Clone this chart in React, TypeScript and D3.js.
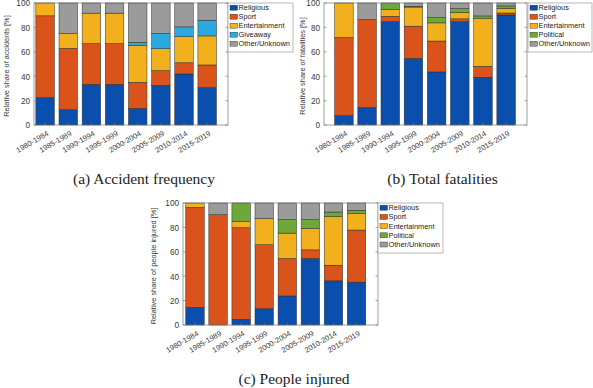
import * as d3 from "d3";

const periods = ["1980-1984", "1985-1989", "1990-1994", "1995-1999", "2000-2004", "2005-2009", "2010-2014", "2015-2019"];
const yTicks = [0, 20, 40, 60, 80, 100];

// (a) accident frequency [%]
const accidentSeries = ["Religious", "Sport", "Entertainment", "Giveaway", "Other/Unknown"];
const accidentReligious = [22.5, 12.5, 33.3, 33.3, 13.6, 32.5, 41.8, 30.7];
const accidentSport = [67, 50.3, 33.4, 33.4, 21.4, 12, 9.2, 18.5];
const accidentEntertainment = [10.5, 12.2, 25, 25, 30, 18, 21.5, 23.8];
const accidentGiveaway = [0, 0, 0, 0, 2.7, 12.5, 7.9, 12.9];
const accidentOther = [0, 25, 8.3, 8.3, 32.3, 25, 19.6, 14.1];

// (b) total fatalities [%]
const fatalitySeries = ["Religious", "Sport", "Entertainment", "Political", "Other/Unknown"];
const fatalityReligious = [7.6, 14.4, 84.8, 54.6, 43.5, 84.8, 39.1, 90.2];
const fatalitySport = [64.1, 72, 4.3, 26.4, 25.3, 2.2, 9, 1.6];
const fatalityEntertainment = [28.3, 0, 5.5, 15.7, 14.9, 5.4, 39.1, 3.9];
const fatalityPolitical = [0, 0, 5.4, 0.5, 4.3, 3, 2.2, 1.9];
const fatalityOther = [0, 13.6, 0, 2.8, 12, 4.6, 10.6, 2.4];

// (c) people injured [%]
const injuredSeries = ["Religious", "Sport", "Entertainment", "Political", "Other/Unknown"];
const injuredReligious = [14.5, 0, 4.7, 13.4, 23.8, 54.5, 36.2, 35.1];
const injuredSport = [81.9, 90.4, 75, 52.4, 30.7, 7.1, 12.8, 42.7];
const injuredEntertainment = [3.6, 0, 5, 21.6, 20.8, 17.6, 40, 13.4];
const injuredPolitical = [0, 0, 15.3, 0, 11, 7.1, 3.6, 2.8];
const injuredOther = [0, 9.6, 0, 12.6, 13.7, 13.7, 7.4, 6];

const seriesColors: Record<string, string> = {
  Religious: "#0b4fae",
  Sport: "#d9531a",
  Entertainment: "#f2b01c",
  Giveaway: "#2aa9e0",
  Political: "#6fa83a",
  "Other/Unknown": "#9b9b9b",
};

const sansFont = "'Liberation Sans', Arial, sans-serif";
const serifFont = "'Liberation Serif', 'Times New Roman', serif";

interface PanelProps {
  series: string[];
  values: number[][];
  box: { left: number; right: number; top: number; bottom: number };
  xDomain: [number, number];
  legend: { x: number; y: number; w: number; h: number };
  yLabel: string;
  yLabelX: number;
  caption: string;
  captionX: number;
  captionY: number;
}

const Panel = ({ series, values, box, xDomain, legend, yLabel, yLabelX, caption, captionX, captionY }: PanelProps) => {
  const rows = periods.map((p, i) => {
    const row: Record<string, number | string> = { period: p };
    series.forEach((s, j) => (row[s] = values[j][i]));
    return row;
  });
  const stacked = d3.stack<Record<string, number | string>>().keys(series)(rows as never);

  const x = d3.scaleLinear().domain(xDomain).range([box.left, box.right]);
  const y = d3.scaleLinear().domain([0, 100]).range([box.bottom, box.top]);
  const barWidth = x(1.8) - x(1);
  const rowStep = (legend.h - 4) / series.length;

  return (
    <g>
      {stacked.map((layer) => (
        <g key={layer.key} fill={seriesColors[layer.key]}>
          {layer.map((d, i) =>
            d[1] - d[0] > 0 ? (
              <rect
                key={i}
                x={x(i + 1) - barWidth / 2}
                y={y(d[1])}
                width={barWidth}
                height={y(d[0]) - y(d[1])}
                stroke="#2b2b2b"
                strokeWidth={0.5}
              />
            ) : null
          )}
        </g>
      ))}
      <rect x={box.left} y={box.top} width={box.right - box.left} height={box.bottom - box.top} fill="none" stroke="#777" strokeWidth={0.7} />
      {yTicks.map((t) => (
        <g key={t}>
          <line x1={box.left} x2={box.left + 2.5} y1={y(t)} y2={y(t)} stroke="#777" strokeWidth={0.7} />
          <line x1={box.right} x2={box.right - 2.5} y1={y(t)} y2={y(t)} stroke="#777" strokeWidth={0.7} />
          <text x={box.left - 4} y={y(t)} dy="0.42em" textAnchor="end" fontSize={8.2} fill="#3a3a3a" fontFamily={sansFont}>
            {t}
          </text>
        </g>
      ))}
      {periods.map((p, i) => (
        <g key={p}>
          <line x1={x(i + 1)} x2={x(i + 1)} y1={box.bottom} y2={box.bottom - 2.5} stroke="#777" strokeWidth={0.7} />
          <text
            transform={`translate(${x(i + 1) + 4},${box.bottom + 10}) rotate(-30)`}
            textAnchor="end"
            fontSize={7.5}
            fill="#3a3a3a"
            fontFamily={sansFont}
          >
            {p}
          </text>
        </g>
      ))}
      <text
        transform={`translate(${yLabelX},${(box.top + box.bottom) / 2 + 2}) rotate(-90)`}
        textAnchor="middle"
        dy="0.35em"
        fontSize={7.4}
        fill="#3a3a3a"
        fontFamily={sansFont}
      >
        {yLabel}
      </text>
      <rect x={legend.x} y={legend.y} width={legend.w} height={legend.h} fill="#fff" stroke="#999" strokeWidth={0.7} />
      {series.map((s, j) => {
        const cy = legend.y + 4.7 + rowStep * j;
        return (
          <g key={s}>
            <rect x={legend.x + 2} y={cy - 2.5} width={7.5} height={5} fill={seriesColors[s]} stroke="#2b2b2b" strokeWidth={0.4} />
            <text x={legend.x + 10.5} y={cy} dy="0.35em" fontSize={7.4} fill="#222" fontFamily={sansFont}>
              {s}
            </text>
          </g>
        );
      })}
      <text x={captionX} y={captionY} textAnchor="middle" fontSize={15.5} fill="#222" fontFamily={serifFont}>
        {caption}
      </text>
    </g>
  );
};

export default function App() {
  return (
    <svg width={593} height={388} style={{ position: "absolute", left: 0, top: 0, background: "#fff" }}>
      <Panel
        series={accidentSeries}
        values={[accidentReligious, accidentSport, accidentEntertainment, accidentGiveaway, accidentOther]}
        box={{ left: 34, right: 228, top: 3, bottom: 125 }}
        xDomain={[0.52, 8.9]}
        legend={{ x: 228, y: 3, w: 65, h: 49 }}
        yLabel="Relative share of accidents [%]"
        yLabelX={6}
        caption="(a) Accident frequency"
        captionX={144}
        captionY={184}
      />
      <Panel
        series={fatalitySeries}
        values={[fatalityReligious, fatalitySport, fatalityEntertainment, fatalityPolitical, fatalityOther]}
        box={{ left: 324, right: 527, top: 3, bottom: 125 }}
        xDomain={[0.14, 8.9]}
        legend={{ x: 528, y: 3, w: 64, h: 49 }}
        yLabel="Relative share of fatalities [%]"
        yLabelX={302}
        caption="(b) Total fatalities"
        captionX={442.5}
        captionY={184}
      />
      <Panel
        series={injuredSeries}
        values={[injuredReligious, injuredSport, injuredEntertainment, injuredPolitical, injuredOther]}
        box={{ left: 183, right: 378, top: 203, bottom: 325 }}
        xDomain={[0.48, 8.93]}
        legend={{ x: 378, y: 203, w: 65, h: 50 }}
        yLabel="Relative share of people injured [%]"
        yLabelX={153}
        caption="(c) People injured"
        captionX={294}
        captionY={384}
      />
    </svg>
  );
}
